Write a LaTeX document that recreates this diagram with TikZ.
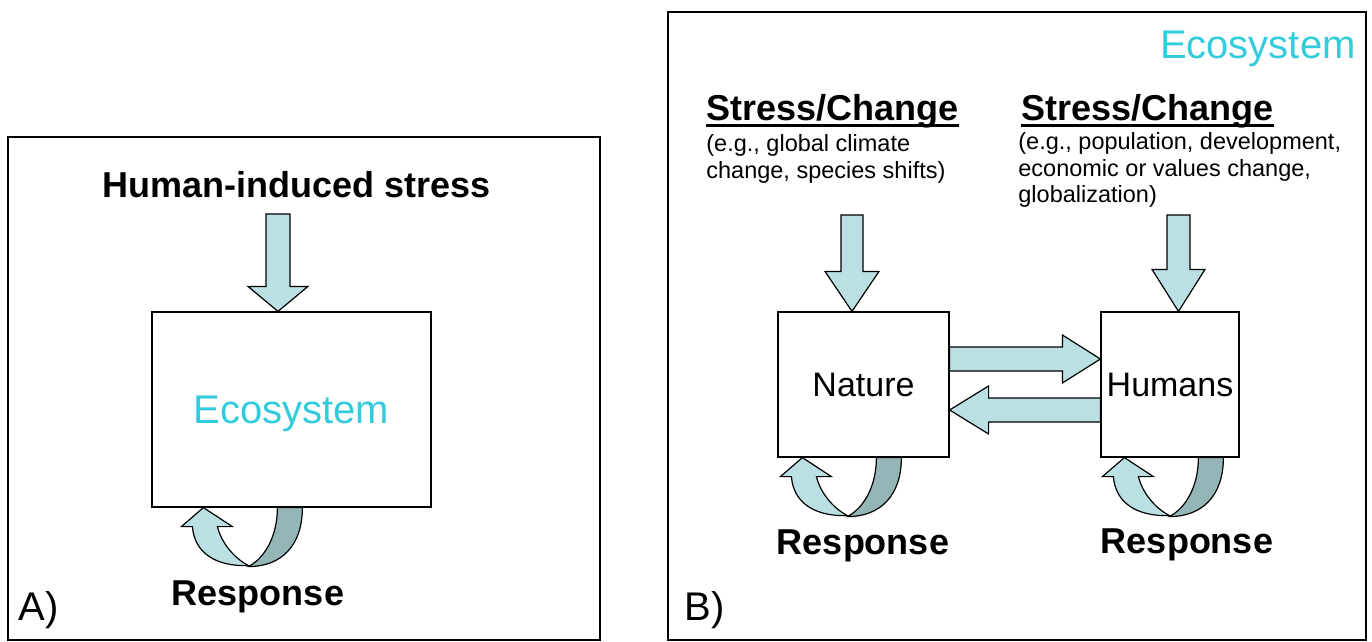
\documentclass[tikz,border=0pt]{standalone}
\usepackage{fontspec}
\setmainfont{Liberation Sans}
\usetikzlibrary{calc,positioning}
\definecolor{icecyan}{HTML}{BBE0E3}
\definecolor{slatecyan}{HTML}{94B6B6}
\definecolor{ecocyan}{HTML}{33CCDD}
\tikzset{
  panel/.style={draw,line width=.75pt},
  ecobox/.style={draw,fill=white,line width=.6pt,inner sep=0pt,text depth=0pt},
  headline/.style={font=\bfseries\fontsize{18}{22}\selectfont,inner sep=0pt},
  underbar/.style={line width=1.5pt},
  tag/.style={font=\fontsize{20}{24}\selectfont,inner sep=0pt},
  smalltext/.style={font=\fontsize{11.75}{13.25}\selectfont,align=left,inner sep=0pt},
  blockarrow/.style={draw,fill=icecyan,line width=.6pt,line join=miter},
  loopback/.style={draw,fill=slatecyan,line width=.6pt},
  loopfront/.style={draw,fill=icecyan,line width=.6pt,line join=miter}
}
% fat arrow: from, to, shaft half width, head half width, head length
\newcommand{\fatarrow}[5]{%
  \coordinate (hb) at ($(#2)!#5!(#1)$);
  \draw[blockarrow] ($(#1)!#3!90:(#2)$) -- ($(hb)!#3!90:(#2)$) -- ($(hb)!#4!90:(#2)$) -- (#2)
    -- ($(hb)!#4!-90:(#2)$) -- ($(hb)!#3!-90:(#2)$) -- ($(#1)!#3!-90:(#2)$) -- cycle;}
% u-turn arrow under a box, tip given
\newcommand{\uturn}[1]{%
  \begin{scope}[shift={(#1)}]
    \draw[loopback] (74,0) -- (99,0) .. controls (99,38) and (78,59) .. (45,59)
      .. controls (62,50) and (74,28) .. (74,0) -- cycle;
    \draw[loopfront] (0,0) -- (29,19) -- (14,19) .. controls (18,35) and (30,50) .. (45,58)
      .. controls (12,59) and (-9,45) .. (-11,19) -- (-22,19) -- cycle;
  \end{scope}}

\begin{document}
\begin{tikzpicture}[x=.5pt,y=-.5pt]
 \useasboundingbox (0,0) rectangle (1372,642);
 % panel A
 \draw[panel] (8,137) rectangle (600,640);
 \node[ecobox,minimum width=139.5pt,minimum height=97.5pt,text=ecocyan,
   font=\fontsize{20}{24}\selectfont] (eco) at (291.5,409.5) {Ecosystem};
 \node[headline,anchor=base] (stressA) at (296.5,198) {Human-induced stress};
 \coordinate (sA) at (278,214);
 \coordinate (tA) at (sA |- eco.north);
 \fatarrow{sA}{tA}{6pt}{15pt}{12.5pt}
 \coordinate (uA) at ($(eco.south west)+(52,0)$);
 \uturn{uA}
 \node[headline,anchor=base] (respA) at (258,605) {Response};
 \node[tag,anchor=base west] (tagA) at (18,620) {A)};

 % panel B
 \draw[panel] (668,12) rectangle (1366,640);
 \node[tag,anchor=base east,text=ecocyan] (ecoB) at (1356,59) {Ecosystem};
 \node[ecobox,minimum width=85.5pt,minimum height=72.5pt,
   font=\fontsize{17}{20}\selectfont] (nature) at (863.5,384.5) {Nature};
 \node[ecobox,minimum width=69pt,minimum height=72.5pt,
   font=\fontsize{17}{20}\selectfont] (humans) at (1170,384.5) {Humans};

 \node[headline,anchor=base west] (stressN) at (706,120.5) {Stress/Change};
 \draw[underbar] ([yshift=-2.35pt]stressN.base west) -- ([yshift=-2.35pt]stressN.base east);
 \node[smalltext,anchor=base west] (egN) at (706,178) {(e.g., global climate\\change, species shifts)};
 \node[headline,anchor=base west] (stressH) at (1021,120.5) {Stress/Change};
 \draw[underbar] ([yshift=-2.35pt]stressH.base west) -- ([yshift=-2.35pt]stressH.base east);
 \node[smalltext,anchor=base west] (egH) at (1018,203) {(e.g., population, development,\\economic or values change,\\globalization)};

 \coordinate (sN) at (852,215);
 \coordinate (tN) at (sN |- nature.north);
 \fatarrow{sN}{tN}{5.5pt}{13.5pt}{20pt}
 \coordinate (sH) at (1178.5,215);
 \coordinate (tH) at (sH |- humans.north);
 \fatarrow{sH}{tH}{5.75pt}{13.25pt}{21pt}

 \coordinate (r1) at ($(nature.east)+(0,-25.5)$);
 \coordinate (r2) at (r1 -| humans.west);
 \fatarrow{r1}{r2}{6pt}{12pt}{19pt}
 \coordinate (l1) at ($(humans.west)+(0,25.5)$);
 \coordinate (l2) at (l1 -| nature.east);
 \fatarrow{l1}{l2}{6pt}{12pt}{19.5pt}

 \coordinate (uN) at ($(nature.south west)+(25,0)$);
 \uturn{uN}
 \coordinate (uH) at ($(humans.south west)+(24,0)$);
 \uturn{uH}
 \node[headline,anchor=base] (respN) at (863,554) {Response};
 \node[headline,anchor=base] (respH) at (1187,553) {Response};
 \node[tag,anchor=base west] (tagB) at (684,620) {B)};
\end{tikzpicture}
\end{document}
